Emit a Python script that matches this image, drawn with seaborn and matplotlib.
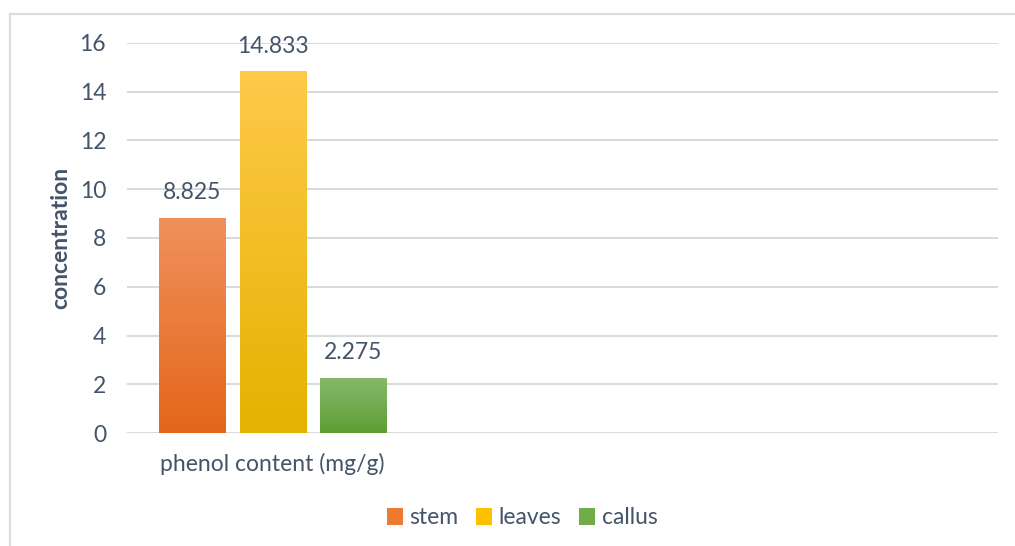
import numpy as np
import pandas as pd
import matplotlib.pyplot as plt
import seaborn as sns
from matplotlib.colors import LinearSegmentedColormap
from matplotlib.patches import Patch
from matplotlib.lines import Line2D

# data
category = ["phenol content (mg/g)"]
parts = ["stem", "leaves", "callus"]
values = [8.825, 14.833, 2.275]

# gradient colours (top, bottom) per series
top_colors = ["#f0915c", "#ffc94a", "#86b96c"]
bottom_colors = ["#e4661a", "#e2b300", "#5f9d33"]
mid_colors = ["#ee7a30", "#fcc000", "#70ad47"]

text_color = "#44546a"
grid_color = "#d9d9d9"
fs = 16.5

df = pd.DataFrame({"category": category * len(parts), "part": parts, "value": values})

sns.set_theme(style="white")
plt.rcParams["font.family"] = ["Lato", "DejaVu Sans"]

fig = plt.figure(figsize=(10.15, 5.46), dpi=100)
ax = fig.add_axes([127 / 1015, 113 / 546, 871 / 1015, 390 / 546])

sns.barplot(data=df, x="category", y="value", hue="part", palette=mid_colors,
            width=0.8, gap=0.18, legend=False, ax=ax, zorder=3)

ax.set_yticks(np.arange(0, 17, 2))
ax.yaxis.grid(True, color=grid_color, linewidth=1.4, zorder=0)
ax.xaxis.grid(False)
for s in ax.spines.values():
    s.set_visible(False)

# gradient fill for each bar
grad = np.linspace(0, 1, 256).reshape(-1, 1)
for patch, c0, c1, v in zip(ax.patches, top_colors, bottom_colors, values):
    x0, y0 = patch.get_x(), patch.get_y()
    w, h = patch.get_width(), patch.get_height()
    cmap = LinearSegmentedColormap.from_list("g", [c0, c1])
    im = ax.imshow(grad, cmap=cmap, aspect="auto", extent=[x0, x0 + w, y0, y0 + h],
                   origin="upper", zorder=3)
    im.set_clip_path(patch)
    patch.set_facecolor("none")
    patch.set_edgecolor("none")
    ax.annotate(f"{v:.3f}", (x0 + w / 2, y0 + h), xytext=(0, 10.5), textcoords="offset points",
                ha="center", va="bottom", fontsize=fs, color=text_color)

ax.set_xlim(-0.482, 2.403)
ax.set_ylim(0, 16)

ax.tick_params(axis="y", length=0, pad=15, labelsize=fs, labelcolor=text_color)
ax.tick_params(axis="x", length=0, pad=14, labelsize=fs, labelcolor=text_color)
ax.set_xlabel("")
ax.set_ylabel("concentration", fontsize=fs, fontweight="bold", color=text_color)
ax.yaxis.set_label_coords(-0.064, 0.5)

handles = [Patch(facecolor=c, edgecolor="none") for c in mid_colors]
fig.legend(handles, parts, loc="center", bbox_to_anchor=(522 / 1015, 1 - 518 / 546),
           ncol=3, frameon=False, fontsize=fs, labelcolor=text_color,
           handlelength=0.7, handleheight=0.7, handletextpad=0.3, columnspacing=0.75)

# chart area border (top and left edges visible)
border = "#d9dde3"
fig.add_artist(Line2D([10 / 1015, 1], [1 - 14 / 546, 1 - 14 / 546], color=border, linewidth=1.5))
fig.add_artist(Line2D([10 / 1015, 10 / 1015], [0, 1 - 14 / 546], color=border, linewidth=1.5))

fig.savefig("out.png", dpi=100, facecolor="white")
